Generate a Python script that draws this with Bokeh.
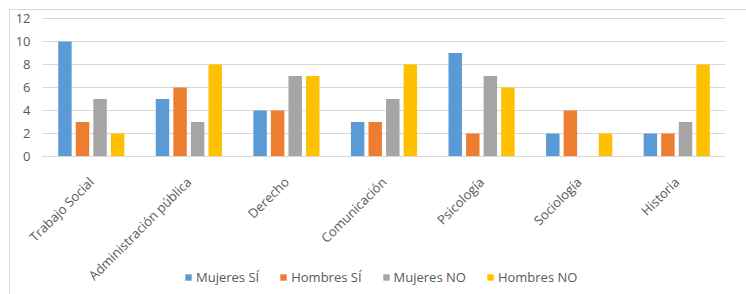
import math
from bokeh.plotting import figure
from bokeh.models import (ColumnDataSource, FixedTicker, Legend, LegendItem, Range1d,
                          BoxAnnotation)
from bokeh.transform import dodge
from bokeh.embed import file_html
from bokeh.resources import INLINE

categories = ["Trabajo Social", "Administración pública", "Derecho", "Comunicación",
              "Psicología", "Sociología", "Historia"]
mujeres_si = [10, 5, 4, 3, 9, 2, 2]
hombres_si = [3, 6, 4, 3, 2, 4, 2]
mujeres_no = [5, 3, 7, 5, 7, 0, 3]
hombres_no = [2, 8, 7, 8, 6, 2, 8]
series_names = ["Mujeres SÍ", "Hombres SÍ", "Mujeres NO", "Hombres NO"]
series_keys = ["ms", "hs", "mn", "hn"]
colors = ["#5B9BD5", "#ED7D31", "#A5A5A5", "#FFC000"]
y_ticks = [0, 2, 4, 6, 8, 10, 12]

positions = list(range(len(categories)))
source = ColumnDataSource(dict(x=positions, cat=categories, ms=mujeres_si, hs=hombres_si,
                               mn=mujeres_no, hn=hombres_no))

FONT = "Open Sans"
TXT = "#595959"
GRID = "#D9D9D9"

n = len(categories)
x_lo, x_hi = -0.5, n - 0.5
y_top = max(y_ticks)
# frame extends left of the plot area (for the first rotated label), above it
# (for the top tick label) and down to the page bottom (for the category labels
# and legend under the value-0 axis)
p = figure(x_range=Range1d(-0.8177, x_hi), y_range=Range1d(-11.65, 13.565),
           width=746, height=294, output_backend="svg", toolbar_location=None,
           min_border_left=11, min_border_right=21, min_border_top=0, min_border_bottom=4)
p.outline_line_color = None
p.border_fill_color = None
p.background_fill_color = None
p.styles = {"box-shadow": "inset 9px 9px 0 0 #ffffff, inset 10px 10px 0 0 #D9D9D9"}

offsets = [-0.27, -0.09, 0.09, 0.27]
renderers = []
for key, off, col in zip(series_keys, offsets, colors):
    r = p.vbar(x=dodge("x", off), top=key, width=0.138, source=source,
               fill_color=col, line_color=None)
    renderers.append(r)

p.xgrid.grid_line_color = None
p.ygrid.grid_line_color = GRID
p.ygrid.grid_line_width = 1
p.ygrid.ticker = FixedTicker(ticks=y_ticks)

# keep gridlines to the plot area only
p.add_layout(BoxAnnotation(right=x_lo, top=y_top + 0.1, fill_color="white", fill_alpha=1,
                           line_color=None, level="underlay"))

p.yaxis.fixed_location = x_lo
p.yaxis.ticker = FixedTicker(ticks=y_ticks)
p.yaxis.axis_line_color = None
p.yaxis.major_tick_line_color = None
p.yaxis.minor_tick_line_color = None
p.yaxis.major_tick_out = 0
p.yaxis.major_tick_in = 0
p.yaxis.major_label_standoff = 12
p.yaxis.major_label_text_font = FONT
p.yaxis.major_label_text_font_size = "13px"
p.yaxis.major_label_text_color = TXT

p.xaxis.fixed_location = 0
p.xaxis.bounds = (x_lo, x_hi)
p.xaxis.ticker = FixedTicker(ticks=positions)
p.xaxis.major_label_overrides = {i: c for i, c in zip(positions, categories)}
p.xaxis.axis_line_color = GRID
p.xaxis.major_tick_line_color = None
p.xaxis.minor_tick_line_color = None
p.xaxis.major_tick_out = 0
p.xaxis.major_tick_in = 0
p.xaxis.major_label_orientation = math.pi / 4
p.xaxis.major_label_standoff = 23
p.xaxis.major_label_text_font = FONT
p.xaxis.major_label_text_font_size = "13px"
p.xaxis.major_label_text_color = TXT

legend = Legend(items=[LegendItem(label=nm, renderers=[r]) for nm, r in zip(series_names, renderers)],
                orientation="horizontal", location=(173, 4),
                glyph_width=8, glyph_height=8, label_standoff=4, spacing=20,
                padding=0, margin=0, border_line_color=None, background_fill_alpha=0,
                label_text_font=FONT, label_text_font_size="13px", label_text_color=TXT,
                label_height=16)
p.add_layout(legend, "center")

open("out.html", "w").write(file_html(p, INLINE))
